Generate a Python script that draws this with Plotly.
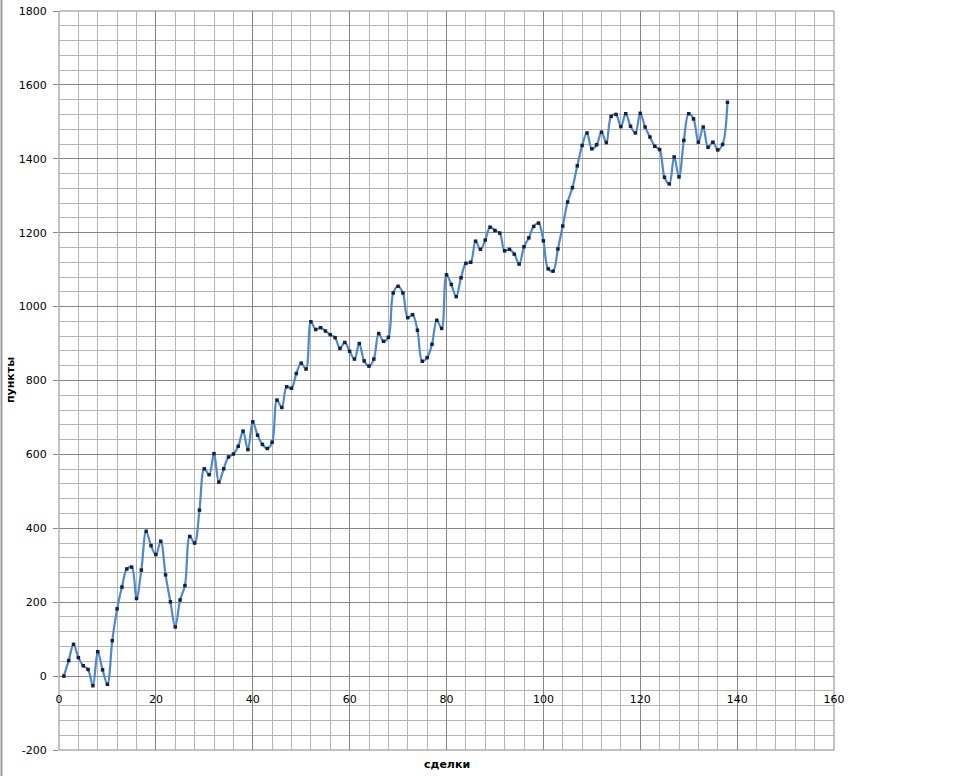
import plotly.graph_objects as go

deals = list(range(1, 139))
points = [
    0, 42, 86, 50, 28, 18, -26, 66, 17, -22,
    96, 182, 241, 290, 295, 210, 287, 392, 353, 329,
    365, 274, 201, 133, 206, 245, 378, 360, 449, 561,
    545, 602, 525, 561, 593, 601, 622, 663, 613, 688,
    652, 627, 616, 633, 747, 727, 783, 779, 819, 847,
    831, 959, 938, 943, 934, 924, 916, 887, 903, 879,
    858, 900, 853, 839, 858, 927, 906, 917, 1037, 1055,
    1037, 970, 978, 936, 852, 862, 898, 963, 941, 1086,
    1060, 1027, 1078, 1117, 1120, 1177, 1155, 1180, 1215, 1206,
    1199, 1151, 1155, 1142, 1115, 1162, 1186, 1217, 1226, 1178,
    1102, 1096, 1156, 1218, 1283, 1322, 1381, 1436, 1470, 1427,
    1438, 1472, 1444, 1515, 1520, 1487, 1522, 1488, 1470, 1523,
    1486, 1459, 1434, 1425, 1350, 1332, 1405, 1351, 1450, 1522,
    1508, 1445, 1486, 1431, 1445, 1424, 1439, 1553,
]
y_tick_vals = [-200, 0, 200, 400, 600, 800, 1000, 1200, 1400, 1600, 1800]
y_tick_text = ["-200", "0", "200", "400", "600", "800", "1000", "1200", "1400", "1600", "1800"]
x_tick_vals = [0, 20, 40, 60, 80, 100, 120, 140, 160]
x_tick_text = ["0", "20", "40", "60", "80", "100", "120", "140", "160"]
x_title = "сделки"
y_title = "пункты"

FONT = "DejaVu Sans"
MAJOR = "#868686"
MINOR = "#b4b4b4"

fig = go.Figure()
fig.add_trace(go.Scatter(
    x=deals, y=points, mode="lines+markers",
    line=dict(color="#5189cf", width=2.25, shape="spline", smoothing=1),
    marker=dict(symbol="square", size=3.5, color="#14213d"),
    showlegend=False, hoverinfo="x+y",
))

fig.update_layout(
    width=960, height=776,
    margin=dict(l=59, r=125.5, t=10.5, b=26, pad=0, autoexpand=False),
    paper_bgcolor="white", plot_bgcolor="white",
    font=dict(family=FONT, size=11, color="#000000"),
    xaxis=dict(
        range=[0, 160], tickmode="array", tickvals=x_tick_vals, ticktext=x_tick_text,
        showgrid=True, gridcolor=MAJOR, gridwidth=1,
        minor=dict(dtick=4, tick0=0, showgrid=True, gridcolor=MINOR, gridwidth=1),
        zeroline=False, showline=False, ticks="",
        anchor="free", position=0.1, automargin=False,
        ticklabelstandoff=15,
        tickfont=dict(family=FONT, size=11, color="#000000"),
    ),
    yaxis=dict(
        range=[-200, 1800], tickmode="array", tickvals=y_tick_vals, ticktext=y_tick_text,
        showgrid=True, gridcolor=MAJOR, gridwidth=1,
        minor=dict(dtick=40, tick0=0, showgrid=True, gridcolor=MINOR, gridwidth=1),
        zeroline=False, showline=False, automargin=False,
        ticks="outside", ticklen=5, tickcolor=MAJOR,
        ticklabelstandoff=4,
        tickfont=dict(family=FONT, size=11, color="#000000"),
    ),
    shapes=[
        dict(type="rect", xref="paper", yref="paper", x0=0, x1=1, y0=0, y1=1,
             line=dict(color=MAJOR, width=1), layer="below"),
        dict(type="line", xref="paper", yref="paper",
             x0=-0.0742, x1=-0.0742, y0=-0.05, y1=1.02,
             line=dict(color="#9a9a9a", width=2)),
    ],
    annotations=[
        dict(text="<b>" + x_title + "</b>", xref="paper", yref="paper",
             x=0.5, y=-0.008, xanchor="center", yanchor="top", showarrow=False,
             font=dict(family=FONT, size=11, color="#000000")),
        dict(text="<b>" + y_title + "</b>", xref="paper", yref="paper",
             x=-0.0625, y=0.5, xanchor="center", yanchor="middle", showarrow=False,
             textangle=-90, font=dict(family=FONT, size=11, color="#000000")),
    ],
)

fig.write_html(
    "out.html",
    config={"displayModeBar": False},
    post_script="document.body.style.margin='0';document.body.style.overflow='hidden';",
)
